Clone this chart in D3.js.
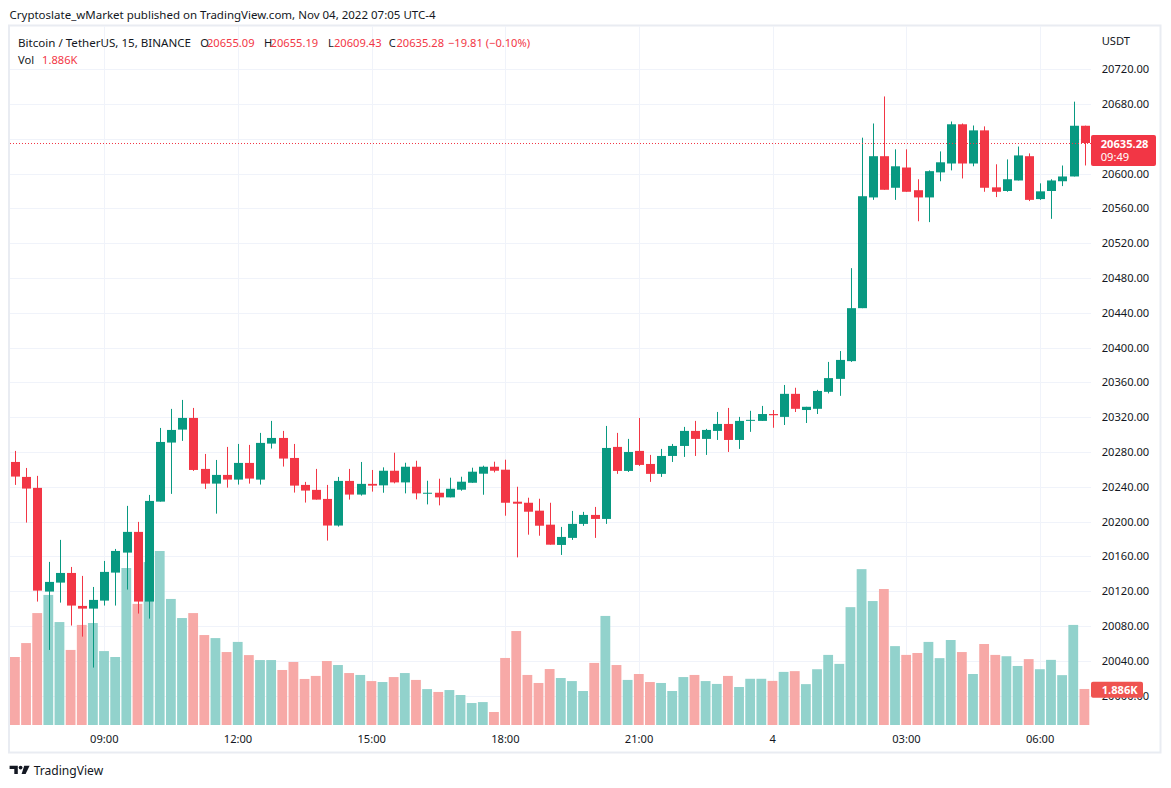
<!DOCTYPE html>
<html><head><meta charset="utf-8">
<script src="https://cdn.jsdelivr.net/npm/d3@7"></script>
<style>
html,body{margin:0;padding:0;background:#fff;}
svg{display:block;}
text{font-family:"Noto Sans",Roboto,sans-serif;}
</style></head>
<body><svg id="c" width="1171" height="788"></svg>
<script>
// ---------- DATA (BTC/USDT 15m, Binance, Nov 3 07:00 – Nov 4 07:00) ----------
const opens = [20268.6,20251.4,20238.8,20119.6,20129.9,20141.0,20103.1,20100.0,20109.2,20141.4,
20164.4,20188.2,20108.1,20223.0,20290.9,20305.8,20319.2,20260.6,20243.7,20253.7,
20248.3,20267.5,20248.3,20289.7,20296.2,20273.2,20242.2,20236.5,20226.1,20195.5,
20246.8,20231.1,20243.4,20241.7,20258.5,20245.1,20263.1,20232.5,20233.2,20227.9,
20236.7,20244.7,20255.1,20263.1,20259.7,20222.9,20221.7,20212.6,20196.5,20173.2,
20181.3,20197.4,20207.7,20203.1,20285.9,20258.3,20281.3,20266.3,20254.9,20275.5,
20287.0,20304.3,20295.1,20304.3,20312.3,20293.9,20316.0,20315.8,20323.7,20320.4,
20346.9,20328.3,20329.7,20349.2,20364.1,20384.5,20445.4,20572.7,20620.1,20583.8,
20607.1,20581.0,20572.7,20601.5,20611.7,20656.8,20611.7,20649.8,20584.3,20580.1,
20592.2,20620.1,20570.8,20580.1,20591.3,20596.8,20655.09];
const highs = [20281.3,20261.7,20252.6,20153.7,20179.0,20147.9,20137.6,20124.9,20154.8,20168.6,
20218.1,20199.7,20230.7,20307.7,20329.6,20339.9,20330.7,20277.8,20270.9,20285.9,
20289.3,20288.2,20302.0,20315.8,20304.3,20289.3,20245.7,20260.6,20242.2,20251.4,
20260.6,20268.6,20259.4,20262.4,20279.2,20267.7,20270.0,20247.0,20249.3,20250.5,
20251.6,20262.0,20264.3,20268.9,20271.2,20240.1,20227.5,20226.3,20221.7,20193.9,
20212.3,20211.2,20216.9,20310.0,20302.0,20295.1,20319.2,20276.7,20283.6,20289.3,
20308.9,20315.8,20306.6,20326.1,20330.7,20320.4,20327.4,20333.0,20328.3,20357.1,
20353.9,20332.0,20351.5,20383.6,20396.1,20491.4,20641.4,20657.7,20688.8,20628.0,
20628.0,20593.6,20603.8,20625.6,20660.0,20657.7,20655.4,20654.4,20610.8,20616.4,
20631.2,20623.3,20588.9,20593.6,20609.4,20682.8,20655.19];
const lows = [20242.2,20198.9,20108.1,20052.5,20106.9,20080.5,20067.8,20032.2,20103.5,20103.5,
20121.9,20094.3,20088.5,20223.0,20231.9,20292.8,20258.3,20237.6,20209.2,20239.1,
20242.6,20243.7,20242.6,20284.0,20263.3,20233.4,20221.9,20225.3,20178.2,20194.3,
20225.3,20229.9,20234.5,20233.2,20244.0,20232.5,20225.6,20219.8,20218.7,20227.9,
20235.5,20244.7,20230.9,20256.6,20206.8,20158.9,20185.0,20183.8,20173.5,20161.7,
20179.0,20195.1,20181.3,20197.4,20254.9,20257.1,20264.0,20245.7,20251.4,20268.6,
20274.4,20275.5,20276.7,20293.9,20280.1,20283.6,20303.2,20315.8,20307.9,20311.1,
20326.0,20313.4,20323.7,20347.4,20344.6,20383.6,20445.4,20569.9,20581.5,20569.9,
20579.2,20545.3,20544.3,20591.3,20603.8,20594.5,20608.5,20579.2,20573.1,20579.2,
20592.2,20568.5,20569.9,20548.1,20585.7,20596.8,20609.43];
const closes = [20251.8,20238.0,20120.7,20130.7,20141.0,20103.5,20100.0,20110.0,20142.2,20166.3,
20188.2,20108.1,20223.8,20291.6,20305.4,20319.2,20259.4,20243.7,20253.7,20248.3,
20267.5,20249.5,20290.5,20296.2,20272.5,20241.4,20235.7,20225.3,20195.5,20246.8,
20231.1,20243.4,20241.4,20258.5,20245.1,20263.1,20232.5,20233.2,20227.9,20237.8,
20245.9,20257.4,20263.1,20258.5,20221.7,20220.6,20211.4,20195.3,20173.5,20182.4,
20197.4,20207.7,20203.1,20284.7,20258.3,20280.1,20265.2,20254.9,20275.5,20287.0,
20304.3,20295.1,20305.4,20312.3,20293.9,20315.8,20317.0,20323.7,20322.3,20346.9,
20329.7,20332.0,20350.2,20365.0,20385.9,20445.4,20574.1,20620.1,20581.5,20608.5,
20579.2,20572.7,20602.9,20613.1,20656.8,20611.7,20649.8,20583.8,20579.2,20593.6,
20621.0,20569.9,20579.7,20592.2,20596.8,20655.1,20635.28];
const volumesK = [3.56,4.29,5.86,6.81,5.39,3.93,5.24,5.34,3.87,3.56,
8.22,6.34,8.53,9.11,6.60,5.60,5.86,4.71,4.55,3.82,
4.35,3.66,3.40,3.40,2.88,3.30,2.41,2.57,3.35,3.14,
2.72,2.62,2.30,2.25,2.51,2.72,2.36,1.88,1.73,1.83,
1.57,1.15,1.20,0.68,3.51,4.92,2.62,2.20,2.93,2.46,
2.30,1.78,3.25,5.71,3.14,2.36,2.67,2.25,2.20,1.78,
2.51,2.62,2.30,2.15,2.57,1.99,2.42,2.42,2.31,2.78,
2.82,2.14,2.92,3.67,3.20,6.17,8.16,6.49,7.12,4.13,
3.67,3.77,4.35,3.50,4.45,3.82,2.67,4.24,3.67,3.60,
3.09,3.45,2.92,3.41,2.61,5.24,1.886];
const priceTicks = [20000,20040,20080,20120,20160,20200,20240,20280,20320,20360,20400,
20440,20480,20520,20560,20600,20640,20680,20720];
const timeTickLabels = ["09:00","12:00","15:00","18:00","21:00","4","03:00","06:00"];
const timeTickDates = [[3,9],[3,12],[3,15],[3,18],[3,21],[4,0],[4,3],[4,6]];
const firstCandle = [2022,10,3,7,0];
const legendName = "Bitcoin / TetherUS, 15, BINANCE";
const lastChange = "\u221219.81 (\u22120.10%)";
const countdown = "09:49";
const headerText = "Cryptoslate_wMarket published on TradingView.com, Nov 04, 2022 07:05 UTC-4";

// ---------- SETUP ----------
const UP = "#089981", DOWN = "#f23645";
const VUP = "#92d2cc", VDOWN = "#f7a9a7";
const GRID = "#f0f3fa", TXT = "#131722";
const svg = d3.select("#c");
const n = opens.length;
const t0 = new Date(...firstCandle);
const times = d3.range(n).map(i => d3.timeMinute.offset(t0, 15 * i));
const x = d3.scaleTime().domain([times[0], times[n - 1]]).range([15.2, 1084.7]);
const y = d3.scaleLinear().domain([20000, 20720]).range([695.6, 69.3]);
const yv = d3.scaleLinear().domain([0, 10]).range([725, 534]);
const paneL = 10, paneR = 1091, paneT = 26, paneB = 725;

function fit(sel, target) {
  const w = sel.node().getComputedTextLength();
  const fs = parseFloat(sel.attr("font-size"));
  sel.attr("font-size", (fs * target / w).toFixed(2));
  return sel;
}

// frame
svg.append("rect").attr("x", 9).attr("y", 25.5).attr("width", 1151.5).attr("height", 727)
  .attr("fill", "#fff").attr("stroke", "#e9ecf2").attr("stroke-width", 2);

// grid
const g = svg.append("g");
g.selectAll("line.h").data(priceTicks).join("line")
  .attr("x1", paneL).attr("x2", paneR)
  .attr("y1", d => Math.round(y(d)) + 0.5).attr("y2", d => Math.round(y(d)) + 0.5)
  .attr("stroke", GRID).attr("stroke-width", 1);
const tickDates = timeTickDates.map(d => new Date(2022, 10, d[0], d[1], 0));
g.selectAll("line.v").data(tickDates).join("line")
  .attr("x1", d => Math.round(x(d)) + 0.5).attr("x2", d => Math.round(x(d)) + 0.5)
  .attr("y1", paneT).attr("y2", paneB)
  .attr("stroke", GRID).attr("stroke-width", 1);

// volume
const idx = d3.range(n);
const isUp = i => closes[i] >= opens[i];
svg.append("g").selectAll("rect").data(idx).join("rect")
  .attr("x", i => x(times[i]) - 5.2).attr("width", 9.8)
  .attr("y", i => yv(volumesK[i])).attr("height", i => yv(0) - yv(volumesK[i]))
  .attr("fill", i => isUp(i) ? VUP : VDOWN);

// candles
const cg = svg.append("g");
cg.selectAll("line").data(idx).join("line")
  .attr("x1", i => Math.round(x(times[i])) + 0.5).attr("x2", i => Math.round(x(times[i])) + 0.5)
  .attr("y1", i => y(highs[i])).attr("y2", i => y(lows[i]))
  .attr("stroke", i => isUp(i) ? UP : DOWN).attr("stroke-width", 1);
cg.selectAll("rect").data(idx).join("rect")
  .attr("x", i => Math.round(x(times[i])) - 4).attr("width", 9)
  .attr("y", i => y(Math.max(opens[i], closes[i])))
  .attr("height", i => Math.max(1, y(Math.min(opens[i], closes[i])) - y(Math.max(opens[i], closes[i]))))
  .attr("fill", i => isUp(i) ? UP : DOWN);

// last price line
const lastY = Math.round(y(closes[n - 1])) + 0.5;
svg.append("line").attr("x1", paneL).attr("x2", paneR).attr("y1", lastY).attr("y2", lastY)
  .attr("stroke", DOWN).attr("stroke-width", 1).attr("stroke-dasharray", "1,2");

// price axis
const ax = svg.append("g");
const probe = ax.append("text").attr("font-size", 12).text("20720.00");
const axisFs = 12 * 47.6 / probe.node().getComputedTextLength();
probe.remove();
ax.selectAll("text").data(priceTicks).join("text")
  .attr("x", 1101.7).attr("y", d => y(d) + axisFs * 0.36)
  .attr("font-size", axisFs).attr("fill", TXT)
  .text(d => d3.format(".2f")(d));
ax.append("text").attr("x", 1101.7).attr("y", 45).attr("font-size", axisFs).attr("fill", TXT).text("USDT");

// last price label
svg.append("rect").attr("x", 1091).attr("y", 135).attr("width", 65).attr("height", 31)
  .attr("rx", 2).attr("fill", DOWN);
svg.append("text").attr("x", 1100.7).attr("y", 143.7 + axisFs * 0.36).attr("font-size", axisFs)
  .attr("font-weight", "bold").attr("fill", "#fff").text(d3.format(".2f")(closes[n - 1]));
svg.append("text").attr("x", 1100.7).attr("y", 156.9 + axisFs * 0.36).attr("font-size", axisFs)
  .attr("fill", "#fff").text(countdown);

// volume label
svg.append("rect").attr("x", 1091).attr("y", 681.7).attr("width", 52).attr("height", 16)
  .attr("rx", 2).attr("fill", "#ef5350");
svg.append("text").attr("x", 1101.7).attr("y", 689.7 + axisFs * 0.36).attr("font-size", axisFs)
  .attr("font-weight", "bold").attr("fill", "#fff").text(d3.format(".3f")(volumesK[n - 1]) + "K");

// time axis
svg.append("g").selectAll("text").data(timeTickLabels).join("text")
  .attr("x", (d, i) => x(tickDates[i])).attr("y", 742.5)
  .attr("text-anchor", "middle").attr("font-size", axisFs).attr("fill", TXT).text(d => d);

// header
fit(svg.append("text").attr("x", 9.5).attr("y", 19).attr("font-size", 12).attr("fill", TXT).text(headerText), 426);

// legend
const lg = svg.append("g").attr("font-size", axisFs);
fit(lg.append("text").attr("x", 18).attr("y", 46.5).attr("font-size", 12).attr("fill", TXT).text(legendName), 173);
const ohlcLabels = ["O", "H", "L", "C"];
const ohlcVals = [opens[n - 1], highs[n - 1], lows[n - 1], closes[n - 1]];
const lx = [200.2, 264, 328, 388.8], vx = [207, 270.6, 334, 396.5];
ohlcLabels.forEach((l, i) => {
  lg.append("text").attr("x", lx[i]).attr("y", 46.5).attr("fill", TXT).text(l);
  lg.append("text").attr("x", vx[i]).attr("y", 46.5).attr("fill", DOWN).text(d3.format(".2f")(ohlcVals[i]));
});
lg.append("text").attr("x", 448).attr("y", 46.5).attr("fill", DOWN).text(lastChange);
lg.append("text").attr("x", 18).attr("y", 64).attr("fill", TXT).text("Vol");
lg.append("text").attr("x", 42.1).attr("y", 64).attr("fill", DOWN).text(d3.format(".3f")(volumesK[n - 1]) + "K");

// TradingView logo
const logo = svg.append("g").attr("fill", TXT);
logo.append("path").attr("d", "M9.6,765.7 H17.8 V774 H14.3 V769 H9.6 Z");
logo.append("circle").attr("cx", 20.6).attr("cy", 767.6).attr("r", 1.9);
logo.append("path").attr("d", "M24.2,765.7 H29.6 L25.6,774 H21.6 Z");
fit(svg.append("text").attr("x", 33.7).attr("y", 775).attr("font-size", 13).attr("fill", TXT).text("TradingView"), 69.6);
</script>
</body></html>
